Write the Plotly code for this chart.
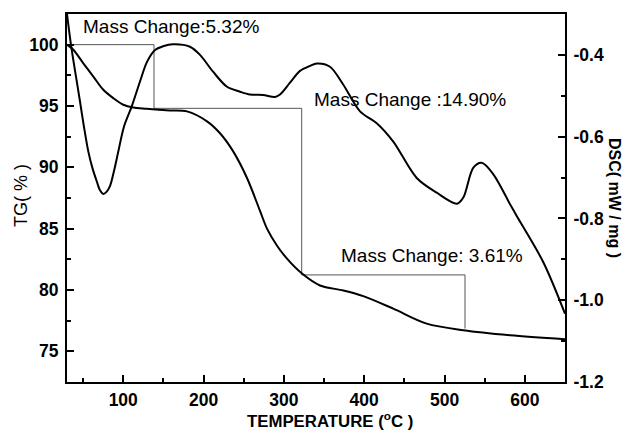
import plotly.graph_objects as go

# ---------------- data ----------------
tg_temp = [30, 37.9, 50.3, 62.8, 75.2, 87.6, 100.1, 112.6, 129.2, 158.2, 179.4, 204.3,
           220.5, 236.7, 254.1, 270.3, 279.0, 291.5, 303.9, 322.6, 345, 374, 398.9, 436.2,
           477.8, 523.4, 581.5, 650]
tg_value = [100.0, 99.59, 98.48, 97.4, 96.32, 95.64, 95.1, 94.88, 94.78, 94.64, 94.56, 93.75,
            92.78, 91.32, 89.13, 86.45, 85.0, 83.61, 82.56, 81.34, 80.37, 79.96, 79.5, 78.48,
            77.26, 76.72, 76.31, 75.99]

dsc_temp = [30, 35.0, 40.6, 46.2, 51.2, 56.5, 61.7, 67.0, 71.1, 75.2, 79.2, 83.5, 88.5, 93.9,
            101.0, 110.6, 120.9, 129.6, 139.6, 149.5, 162.0, 183.1, 195.6, 211.8, 229.2,
            245.4, 257.8, 274, 289, 295.2, 307.6, 320.1, 332.5, 341, 357.4, 374, 394.8, 415.6,
            436.2, 465.4, 490.3, 515.6, 523.4, 535.9, 546.3, 560.8, 581.5, 589.9, 623, 650]
dsc_value = [-0.300, -0.376, -0.446, -0.514, -0.577, -0.636, -0.677, -0.709, -0.731, -0.740,
             -0.735, -0.721, -0.684, -0.636, -0.575, -0.526, -0.465, -0.417, -0.388, -0.379,
             -0.374, -0.380, -0.400, -0.441, -0.478, -0.490, -0.497, -0.498, -0.503, -0.497,
             -0.468, -0.439, -0.427, -0.421, -0.429, -0.473, -0.538, -0.567, -0.612, -0.701,
             -0.737, -0.764, -0.749, -0.676, -0.664, -0.692, -0.765, -0.794, -0.907, -1.033]

# mass-loss steps (temperature, TG level)
step_temps = [30, 138.3, 322.2, 525.5]
step_levels = [100, 94.81, 81.23, 76.86]
step_labels = ["Mass Change:5.32%", "Mass Change :14.90%", "Mass Change: 3.61%"]
label_temps = [48.7, 336.3, 369.9]
label_levels = [101.45, 95.53, 82.8]

x_ticks = [100, 200, 300, 400, 500, 600]
x_minor = [50, 150, 250, 350, 450, 550, 650]
tg_ticks = [75, 80, 85, 90, 95, 100]
tg_minor = [77.5, 82.5, 87.5, 92.5, 97.5]
dsc_ticks = [-1.2, -1.0, -0.8, -0.6, -0.4]
dsc_ticktext = ["-1.2", "-1.0", "-0.8", "-0.6", "-0.4"]
dsc_minor = [-1.1, -0.9, -0.7, -0.5, -0.3]

x_title = "TEMPERATURE (<sup>o</sup>C )"
tg_title = "TG( % )"
dsc_title = "DSC( mW / mg )"

FONT = "Liberation Sans, Arial, sans-serif"

# staircase path for the brackets
bx, by = [step_temps[0]], [step_levels[0]]
for i in range(1, len(step_temps)):
    bx += [step_temps[i], step_temps[i]]
    by += [step_levels[i - 1], step_levels[i]]

fig = go.Figure()
fig.add_trace(go.Scatter(x=bx, y=by, mode="lines", line=dict(color="#555555", width=1),
                         hoverinfo="skip", showlegend=False))
fig.add_trace(go.Scatter(x=tg_temp, y=tg_value, mode="lines", name="TG",
                         line=dict(color="black", width=2, shape="spline", smoothing=0.9),
                         showlegend=False))
fig.add_trace(go.Scatter(x=dsc_temp, y=dsc_value, mode="lines", name="DSC", yaxis="y2",
                         line=dict(color="black", width=2, shape="spline", smoothing=0.9),
                         showlegend=False))

for t, xv, yv in zip(step_labels, label_temps, label_levels):
    fig.add_annotation(x=xv, y=yv, xref="x", yref="y", text=t, showarrow=False,
                       xanchor="left", yanchor="middle", borderpad=0,
                       font=dict(family=FONT, size=19, color="black"))

# axis titles
fig.add_annotation(x=1.0, xref="paper", xshift=50, y=0.5, yref="paper", textangle=90,
                   text=dsc_title, showarrow=False, xanchor="center", yanchor="middle",
                   font=dict(family=FONT, size=16, color="black", weight="bold"))
fig.add_annotation(x=0.0, xref="paper", xshift=-46, y=0.5, yref="paper", yshift=2,
                   textangle=-90, text=tg_title, showarrow=False,
                   xanchor="center", yanchor="middle",
                   font=dict(family=FONT, size=18, color="#000000"))
fig.add_annotation(x=0.5, xref="paper", xshift=14, y=0.0, yref="paper", yshift=-38,
                   text=x_title, showarrow=False, xanchor="center", yanchor="middle",
                   font=dict(family=FONT, size=16.8, color="black", weight="bold"))

tickfont = dict(family=FONT, size=17.5, color="black", weight="bold")

fig.update_layout(
    width=629, height=431,
    margin=dict(l=67, r=64, t=12, b=49),
    paper_bgcolor="white", plot_bgcolor="white",
    showlegend=False,
    xaxis=dict(range=[30, 650], tickmode="array", tickvals=x_ticks,
               showgrid=False, zeroline=False, showline=True, linecolor="black", linewidth=2,
               mirror=True, ticks="inside", ticklen=7, tickwidth=1.5, tickcolor="black",
               minor=dict(tickmode="array", tickvals=x_minor, ticks="inside", ticklen=4,
                          tickwidth=1.5, tickcolor="black"),
               tickfont=tickfont, ticklabelstandoff=1),
    yaxis=dict(range=[72.5, 102.5], tickmode="array", tickvals=tg_ticks,
               showgrid=False, zeroline=False, showline=True, linecolor="black", linewidth=2,
               ticks="inside", ticklen=7, tickwidth=1.5, tickcolor="black",
               minor=dict(tickmode="array", tickvals=tg_minor, ticks="inside", ticklen=4,
                          tickwidth=1.5, tickcolor="black"),
               tickfont=tickfont, ticklabelstandoff=3),
    yaxis2=dict(range=[-1.2, -0.3], overlaying="y", side="right", anchor="x",
                tickmode="array", tickvals=dsc_ticks, ticktext=dsc_ticktext,
                showgrid=False, zeroline=False, showline=True, linecolor="black", linewidth=2,
                ticks="inside", ticklen=7, tickwidth=1.5, tickcolor="black",
                minor=dict(tickmode="array", tickvals=dsc_minor, ticks="inside", ticklen=4,
                           tickwidth=1.5, tickcolor="black"),
                tickfont=tickfont, ticklabelstandoff=3),
)

fig.write_html("out.html")
